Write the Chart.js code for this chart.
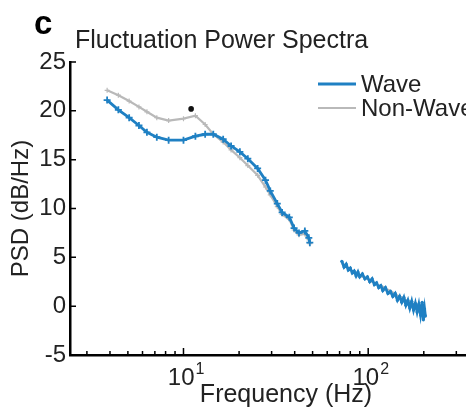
<!DOCTYPE html>
<html>
<head>
<meta charset="utf-8">
<script src="https://cdn.jsdelivr.net/npm/chart.js@4.4.1/dist/chart.umd.min.js"></script>
<style>
html, body { margin: 0; padding: 0; background: #fff; }
#wrap { width: 466px; height: 410px; overflow: hidden; }
canvas { display: block; }
</style>
</head>
<body>
<div id="wrap"><canvas id="psdChart" width="540" height="410"></canvas></div>
<script>
// Frequenzen (Hz) und Werte (dB/Hz)
const lowFreq = [3.86, 4.44, 5.08, 5.74, 6.34, 7.17, 8.31, 10.0, 11.6, 13.1, 14.5, 16.4, 18.1,
  20.2, 22.3, 25.2, 27.8, 29.5, 32.2, 34.2, 37.4, 39.7, 42.2, 45.4, 47.7, 48.3];
const waveLow = [21.1, 20.1, 19.3, 18.5, 17.8, 17.3, 17.0, 17.0, 17.4, 17.6, 17.6, 17.1, 16.4,
  15.8, 15.1, 14.1, 12.9, 11.8, 10.5, 9.6, 9.1, 8.0, 7.5, 7.7, 7.0, 6.5];
const nonWaveLow = [22.1, 21.6, 21.0, 20.4, 19.9, 19.3, 19.0, 19.2, 19.5, 18.6, 17.6, 16.8, 16.0,
  15.2, 14.4, 13.4, 12.2, 11.4, 10.2, 9.4, 8.9, 7.8, 7.3, 7.4, 6.8, 6.4];

const highFreq = [72, 74, 76, 78, 80, 82, 84, 86, 88, 90, 93, 96, 99, 102, 105, 108, 111, 114,
  117, 120, 124, 128, 132, 136, 140, 144, 148, 152, 156, 160, 164, 168, 172, 176, 180, 184,
  188, 192, 196, 199, 202, 204];
const waveHigh = [4.6, 4.0, 4.3, 3.7, 3.9, 3.4, 3.6, 3.1, 3.5, 3.0, 3.3, 2.8, 3.0, 2.5, 2.8, 2.2,
  2.4, 1.9, 2.1, 1.6, 1.9, 1.3, 1.5, 1.0, 1.3, 0.6, 1.0, 0.4, 0.9, 0.1, 0.6, -0.2, 0.5, -0.4,
  0.3, -0.6, 0.2, -0.9, 0.4, -1.4, -0.3, -1.0];
const nonWaveHigh = [4.4, 4.2, 4.0, 3.9, 3.7, 3.6, 3.4, 3.3, 3.3, 3.1, 3.0, 2.9, 2.8, 2.6, 2.5,
  2.4, 2.3, 2.1, 2.1, 2.0, 1.8, 1.7, 1.6, 1.4, 1.3, 1.1, 1.0, 0.9, 0.8, 0.6, 0.5, 0.4, 0.3, 0.2,
  0.1, 0.0, -0.1, -0.3, -0.5, -0.8, -1.0, -1.2];

const sigPoint = [{ x: 11.0, y: 20.2 }];   // Sternchen

const yTickValues = [-5, 0, 5, 10, 15, 20, 25];
const xMajorTicks = [10, 100];
const xMinorTicks = [3, 4, 5, 6, 7, 8, 9, 20, 30, 40, 50, 60, 70, 80, 90, 200, 300, 400, 500, 600, 700];
const seriesNames = ['Wave', 'Non-Wave'];

const BLUE = '#1f80c3';
const GRAY = '#b9b9b9';
const FONT = '"Liberation Sans", Arial, sans-serif';

function pts(xs, ys) { return xs.map((x, i) => ({ x: x, y: ys[i] })); }

// Achsenstriche nach innen, Beschriftungen, Legende
const decorPlugin = {
  id: 'decor',
  afterDraw(chart) {
    const ctx = chart.ctx;
    const xs = chart.scales.x, ys = chart.scales.y;
    const area = chart.chartArea;
    ctx.save();
    ctx.strokeStyle = '#000';
    ctx.lineWidth = 1.5;
    ctx.beginPath();
    xMinorTicks.forEach(v => {
      const px = xs.getPixelForValue(v);
      ctx.moveTo(px, area.bottom); ctx.lineTo(px, area.bottom - 4);
    });
    xMajorTicks.forEach(v => {
      const px = xs.getPixelForValue(v);
      ctx.moveTo(px, area.bottom); ctx.lineTo(px, area.bottom - 7);
    });
    yTickValues.forEach(v => {
      const py = ys.getPixelForValue(v);
      ctx.moveTo(area.left, py); ctx.lineTo(area.left + 6, py);
    });
    ctx.stroke();

    ctx.fillStyle = '#222';
    ctx.textBaseline = 'alphabetic';
    xMajorTicks.forEach(v => {
      const px = xs.getPixelForValue(v);
      ctx.font = '24px ' + FONT;
      ctx.textAlign = 'right';
      ctx.fillText('10', px + 11, 385);
      ctx.font = '16px ' + FONT;
      ctx.textAlign = 'left';
      ctx.fillText(String(Math.round(Math.log10(v))), px + 12, 374);
    });

    ctx.font = '25px ' + FONT;
    ctx.textAlign = 'center';
    ctx.fillText('Frequency (Hz)', 286, 402);
    ctx.textAlign = 'left';
    ctx.fillText('Fluctuation Power Spectra', 75, 48);
    ctx.font = 'bold 33px ' + FONT;
    ctx.fillStyle = '#000';
    ctx.fillText('c', 34, 34);

    // Legende
    ctx.font = '24px ' + FONT;
    ctx.fillStyle = '#222';
    ctx.textBaseline = 'middle';
    [[BLUE, 3, 84], [GRAY, 2, 108]].forEach((s, i) => {
      ctx.strokeStyle = s[0];
      ctx.lineWidth = s[1];
      ctx.beginPath();
      ctx.moveTo(318, s[2]); ctx.lineTo(356, s[2]);
      ctx.stroke();
      ctx.fillText(seriesNames[i], 361, s[2] + 1);
    });
    ctx.restore();
  }
};

new Chart(document.getElementById('psdChart'), {
  type: 'line',
  data: {
    datasets: [
      { data: sigPoint, showLine: false, pointRadius: 2.8, pointBackgroundColor: '#111',
        pointBorderWidth: 0 },
      { label: 'Wave', data: pts(lowFreq, waveLow), borderColor: BLUE, borderWidth: 2.8,
        pointStyle: 'cross', pointRadius: 3.5, pointBorderColor: BLUE, pointBorderWidth: 1.8 },
      { data: pts(highFreq, waveHigh), borderColor: BLUE, borderWidth: 2.8,
        pointRadius: 1.6, pointBackgroundColor: BLUE, pointBorderWidth: 0 },
      { label: 'Non-Wave', data: pts(lowFreq, nonWaveLow), borderColor: GRAY, borderWidth: 2.2,
        pointStyle: 'cross', pointRadius: 2.5, pointBorderColor: GRAY, pointBorderWidth: 1.2 },
      { data: pts(highFreq, nonWaveHigh), borderColor: GRAY, borderWidth: 2,
        pointRadius: 0 }
    ]
  },
  options: {
    responsive: false,
    animation: false,
    devicePixelRatio: 1,
    layout: { padding: { top: 62, right: 0, bottom: 0, left: 0 } },
    plugins: { legend: { display: false }, tooltip: { enabled: false } },
    scales: {
      x: {
        type: 'logarithmic',
        min: 2.43,
        max: 792,
        afterBuildTicks(scale) {
          scale.ticks = xMinorTicks.concat(xMajorTicks).sort((a, b) => a - b).map(v => ({ value: v }));
        },
        afterFit(scale) { scale.height = 55; },
        grid: { display: false },
        border: { display: true, color: '#000', width: 2.5 },
        ticks: { display: false }
      },
      y: {
        min: -5,
        max: 25,
        afterBuildTicks(scale) { scale.ticks = yTickValues.map(v => ({ value: v })); },
        afterFit(scale) { scale.width = 70; },
        grid: { display: false, drawTicks: false },
        border: { display: true, color: '#000', width: 2.5 },
        ticks: { color: '#222', padding: 4, font: { family: FONT, size: 24 } },
        title: { display: true, text: 'PSD (dB/Hz)', color: '#222', padding: { top: 7 },
          font: { family: FONT, size: 24 } }
      }
    }
  },
  plugins: [decorPlugin]
});
</script>
</body>
</html>
